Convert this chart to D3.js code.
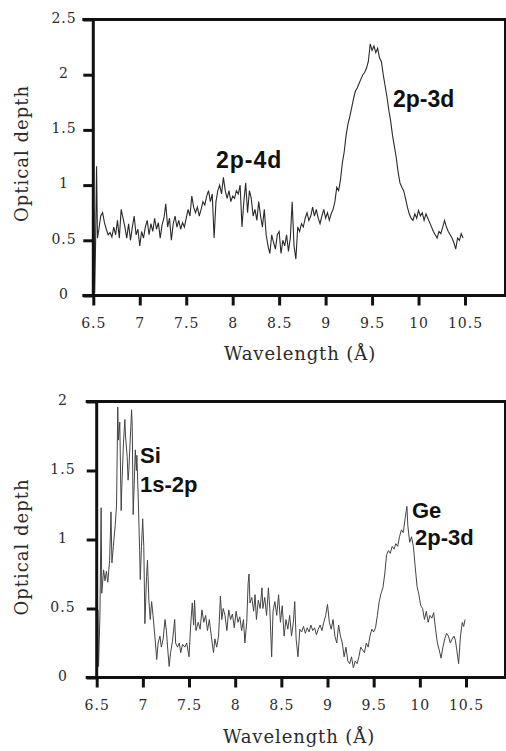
<!DOCTYPE html>
<html>
<head>
<meta charset="utf-8">
<script src="https://cdn.jsdelivr.net/npm/d3@7/dist/d3.min.js"></script>
<style>
  html, body { margin: 0; padding: 0; background: #fff; }
  svg { display: block; }
</style>
</head>
<body>
<script>
// ---------------- DATA ----------------
const xTickValues = [6.5, 7, 7.5, 8, 8.5, 9, 9.5, 10, 10.5];
const xTickLabels = ["6.5", "7", "7.5", "8", "8.5", "9", "9.5", "10", "10.5"];
const yTickValuesTop = [0, 0.5, 1, 1.5, 2, 2.5];
const yTickLabelsTop = ["0", "0.5", "1", "1.5", "2", "2.5"];
const yTickValuesBot = [0, 0.5, 1, 1.5, 2];
const yTickLabelsBot = ["0", "0.5", "1", "1.5", "2"];

const xTitle = "Wavelength (Å)";
const yTitle = "Optical depth";

const labelsTop = ["2p-4d", "2p-3d"];
const labelsBot = ["Si", "1s-2p", "Ge", "2p-3d"];

// Top panel spectrum (wavelength in Å, optical depth)
const wlTop = [6.505, 6.515, 6.525, 6.535, 6.545, 6.56, 6.58, 6.60, 6.62, 6.64, 6.66, 6.68, 6.70, 6.72, 6.74, 6.76, 6.78, 6.80, 6.82, 6.84, 6.86, 6.88, 6.90, 6.92, 6.94, 6.96, 6.98, 7.00, 7.02, 7.04, 7.06, 7.08, 7.10, 7.12, 7.14, 7.16, 7.18, 7.20, 7.22, 7.24, 7.26, 7.28, 7.30, 7.32, 7.34, 7.36, 7.38, 7.40, 7.42, 7.44, 7.46, 7.48, 7.50, 7.52, 7.54, 7.56, 7.58, 7.60, 7.62, 7.64, 7.66, 7.68, 7.70, 7.72, 7.74, 7.76, 7.78, 7.80, 7.82, 7.84, 7.86, 7.88, 7.90, 7.92, 7.94, 7.96, 7.98, 8.00, 8.02, 8.04, 8.06, 8.08, 8.10, 8.12, 8.14, 8.16, 8.18, 8.20, 8.22, 8.24, 8.26, 8.28, 8.30, 8.32, 8.34, 8.36, 8.38, 8.40, 8.42, 8.44, 8.46, 8.48, 8.50, 8.52, 8.54, 8.56, 8.58, 8.60, 8.62, 8.64, 8.66, 8.68, 8.70, 8.72, 8.74, 8.76, 8.78, 8.80, 8.82, 8.84, 8.86, 8.88, 8.90, 8.92, 8.94, 8.96, 8.98, 9.00, 9.02, 9.04, 9.06, 9.08, 9.10, 9.12, 9.14, 9.16, 9.18, 9.20, 9.22, 9.24, 9.26, 9.28, 9.30, 9.32, 9.34, 9.36, 9.38, 9.40, 9.42, 9.44, 9.46, 9.48, 9.50, 9.52, 9.54, 9.56, 9.58, 9.60, 9.62, 9.64, 9.66, 9.68, 9.70, 9.72, 9.74, 9.76, 9.78, 9.80, 9.82, 9.84, 9.86, 9.88, 9.90, 9.92, 9.94, 9.96, 9.98, 10.00, 10.02, 10.04, 10.06, 10.08, 10.10, 10.12, 10.14, 10.16, 10.18, 10.20, 10.22, 10.24, 10.26, 10.28, 10.30, 10.32, 10.34, 10.36, 10.38, 10.40, 10.42, 10.44, 10.46, 10.48];
const odTop = [0.78, 0.02, 0.50, 1.17, 0.52, 0.60, 0.72, 0.75, 0.66, 0.60, 0.55, 0.57, 0.53, 0.62, 0.55, 0.68, 0.52, 0.78, 0.70, 0.62, 0.52, 0.65, 0.50, 0.62, 0.72, 0.55, 0.60, 0.45, 0.58, 0.52, 0.62, 0.68, 0.55, 0.65, 0.58, 0.70, 0.60, 0.66, 0.52, 0.64, 0.70, 0.83, 0.62, 0.70, 0.50, 0.65, 0.72, 0.62, 0.68, 0.60, 0.66, 0.62, 0.70, 0.78, 0.72, 0.90, 0.80, 0.75, 0.80, 0.72, 0.78, 0.85, 0.82, 0.90, 0.95, 0.85, 0.92, 0.52, 0.85, 0.95, 1.00, 0.92, 1.07, 0.95, 0.88, 0.95, 0.85, 0.90, 0.88, 0.95, 0.92, 1.00, 0.62, 0.85, 1.02, 0.75, 0.95, 0.88, 0.72, 0.78, 0.68, 0.85, 0.72, 0.62, 0.78, 0.55, 0.45, 0.38, 0.55, 0.48, 0.42, 0.55, 0.58, 0.38, 0.50, 0.45, 0.55, 0.40, 0.52, 0.85, 0.45, 0.33, 0.62, 0.58, 0.65, 0.62, 0.70, 0.75, 0.68, 0.72, 0.80, 0.72, 0.78, 0.70, 0.65, 0.72, 0.78, 0.70, 0.75, 0.68, 0.74, 0.78, 0.85, 0.98, 0.95, 1.05, 1.20, 1.30, 1.45, 1.55, 1.62, 1.70, 1.78, 1.85, 1.88, 1.92, 1.96, 2.00, 2.02, 2.06, 2.12, 2.28, 2.22, 2.26, 2.20, 2.24, 2.15, 2.12, 2.00, 1.90, 1.80, 1.68, 1.58, 1.45, 1.35, 1.25, 1.12, 1.02, 0.98, 0.95, 0.88, 0.80, 0.74, 0.70, 0.68, 0.74, 0.70, 0.77, 0.72, 0.75, 0.68, 0.74, 0.70, 0.66, 0.62, 0.58, 0.55, 0.52, 0.58, 0.56, 0.62, 0.68, 0.62, 0.58, 0.55, 0.52, 0.48, 0.42, 0.52, 0.50, 0.56, 0.52];

// Bottom panel spectrum
const wlBot = [6.515, 6.520, 6.535, 6.548, 6.555, 6.575, 6.590, 6.605, 6.620, 6.640, 6.655, 6.665, 6.680, 6.700, 6.715, 6.728, 6.735, 6.750, 6.765, 6.772, 6.790, 6.805, 6.812, 6.830, 6.840, 6.848, 6.865, 6.878, 6.885, 6.895, 6.902, 6.918, 6.930, 6.935, 6.950, 6.965, 6.972, 6.985, 6.998, 7.010, 7.018, 7.022, 7.040, 7.050, 7.065, 7.080, 7.095, 7.110, 7.130, 7.150, 7.165, 7.185, 7.200, 7.220, 7.240, 7.255, 7.270, 7.285, 7.300, 7.320, 7.345, 7.355, 7.375, 7.395, 7.410, 7.430, 7.455, 7.475, 7.500, 7.520, 7.535, 7.550, 7.560, 7.575, 7.600, 7.620, 7.640, 7.660, 7.680, 7.700, 7.720, 7.745, 7.765, 7.780, 7.800, 7.820, 7.840, 7.855, 7.870, 7.890, 7.910, 7.930, 7.950, 7.970, 7.990, 8.010, 8.030, 8.050, 8.070, 8.090, 8.105, 8.125, 8.140, 8.150, 8.160, 8.180, 8.200, 8.215, 8.230, 8.250, 8.270, 8.290, 8.300, 8.320, 8.340, 8.360, 8.375, 8.395, 8.410, 8.430, 8.450, 8.470, 8.490, 8.510, 8.530, 8.550, 8.570, 8.590, 8.610, 8.630, 8.645, 8.660, 8.680, 8.700, 8.720, 8.740, 8.760, 8.780, 8.800, 8.820, 8.840, 8.860, 8.880, 8.900, 8.920, 8.940, 8.960, 8.980, 9.000, 9.020, 9.040, 9.060, 9.080, 9.100, 9.120, 9.140, 9.160, 9.180, 9.200, 9.220, 9.240, 9.260, 9.280, 9.300, 9.320, 9.340, 9.360, 9.380, 9.400, 9.420, 9.440, 9.460, 9.480, 9.500, 9.520, 9.540, 9.560, 9.580, 9.600, 9.620, 9.640, 9.660, 9.680, 9.700, 9.720, 9.740, 9.760, 9.780, 9.800, 9.820, 9.840, 9.860, 9.870, 9.890, 9.910, 9.930, 9.950, 9.970, 9.990, 10.010, 10.030, 10.050, 10.070, 10.090, 10.110, 10.130, 10.150, 10.170, 10.190, 10.210, 10.230, 10.250, 10.270, 10.290, 10.310, 10.330, 10.350, 10.370, 10.385, 10.400, 10.420, 10.440, 10.460, 10.475, 10.490];
const odBot = [0.49, 0.08, 0.45, 1.23, 0.61, 0.78, 0.70, 0.77, 0.69, 0.85, 1.20, 0.83, 0.95, 1.10, 1.25, 1.96, 1.72, 1.85, 1.21, 1.38, 1.70, 1.87, 1.75, 1.60, 1.43, 1.50, 1.75, 1.94, 1.82, 1.18, 1.32, 1.65, 1.50, 1.61, 1.30, 0.92, 0.71, 0.95, 1.15, 0.95, 0.59, 0.39, 0.73, 0.85, 0.56, 0.42, 0.55, 0.45, 0.30, 0.13, 0.25, 0.30, 0.22, 0.28, 0.42, 0.34, 0.20, 0.08, 0.18, 0.26, 0.42, 0.25, 0.22, 0.25, 0.18, 0.24, 0.22, 0.25, 0.15, 0.40, 0.54, 0.38, 0.56, 0.34, 0.40, 0.35, 0.49, 0.40, 0.45, 0.34, 0.42, 0.28, 0.18, 0.28, 0.22, 0.30, 0.59, 0.42, 0.50, 0.45, 0.34, 0.49, 0.42, 0.46, 0.36, 0.48, 0.40, 0.44, 0.34, 0.42, 0.25, 0.40, 0.68, 0.75, 0.54, 0.58, 0.48, 0.60, 0.42, 0.56, 0.50, 0.65, 0.50, 0.58, 0.45, 0.65, 0.50, 0.15, 0.48, 0.55, 0.45, 0.60, 0.40, 0.52, 0.30, 0.42, 0.35, 0.45, 0.30, 0.40, 0.55, 0.28, 0.15, 0.35, 0.33, 0.37, 0.32, 0.36, 0.33, 0.38, 0.34, 0.36, 0.31, 0.35, 0.38, 0.34, 0.40, 0.45, 0.53, 0.40, 0.35, 0.42, 0.30, 0.25, 0.38, 0.30, 0.25, 0.15, 0.22, 0.12, 0.10, 0.15, 0.07, 0.12, 0.10, 0.15, 0.22, 0.20, 0.18, 0.25, 0.22, 0.30, 0.35, 0.33, 0.36, 0.45, 0.55, 0.61, 0.65, 0.75, 0.89, 0.92, 0.90, 0.95, 0.93, 0.97, 0.95, 1.02, 1.07, 1.05, 1.15, 1.24, 1.10, 0.98, 1.02, 0.95, 0.80, 0.66, 0.60, 0.52, 0.50, 0.42, 0.48, 0.40, 0.45, 0.43, 0.47, 0.35, 0.25, 0.20, 0.14, 0.22, 0.28, 0.32, 0.30, 0.25, 0.28, 0.30, 0.27, 0.20, 0.10, 0.30, 0.40, 0.37, 0.42];

// ---------------- DRAWING ----------------
const W = 506, H = 751;
const svg = d3.select("body").append("svg").attr("width", W).attr("height", H);

const serif = "'DejaVu Serif', 'Liberation Serif', serif";
const sans = "'Liberation Sans', Arial, Helvetica, sans-serif";

function drawPanel(cfg) {
  const x = d3.scaleLinear().domain([6.5, 10.5]).range([cfg.x0, cfg.x1]);
  const y = d3.scaleLinear().domain([0, cfg.yMax]).range([cfg.yb, cfg.yt]);
  const g = svg.append("g");

  // spectrum
  const line = d3.line().x((d, i) => x(cfg.wl[i])).y(d => y(d));
  g.append("path")
    .datum(cfg.od)
    .attr("d", line)
    .attr("fill", "none")
    .attr("stroke", cfg.lineColor)
    .attr("stroke-width", cfg.lineWidth)
    .attr("stroke-linejoin", "miter");

  // frame
  const frame = g.append("g").attr("stroke", "#111").attr("stroke-linecap", "butt");
  frame.append("line").attr("x1", cfg.x0 - 11).attr("x2", W).attr("y1", cfg.yb).attr("y2", cfg.yb).attr("stroke-width", 3);
  frame.append("line").attr("x1", cfg.x0 - 11).attr("x2", W).attr("y1", cfg.yt).attr("y2", cfg.yt).attr("stroke-width", 3);
  frame.append("line").attr("x1", cfg.x0).attr("x2", cfg.x0).attr("y1", cfg.yt - 1.5).attr("y2", cfg.yb + 1.5).attr("stroke-width", 3);
  frame.append("line").attr("x1", 505).attr("x2", 505).attr("y1", cfg.yt).attr("y2", cfg.yb).attr("stroke-width", 2);

  // x axis
  const xa = g.append("g")
    .attr("transform", `translate(0,${cfg.yb})`)
    .call(d3.axisBottom(x).tickValues(xTickValues).tickSize(10)
      .tickFormat((d, i) => xTickLabels[i]));
  xa.select(".domain").remove();
  xa.selectAll(".tick line").attr("stroke", "#111").attr("stroke-width", 3);
  xa.selectAll(".tick text")
    .attr("y", 32.5).attr("dy", null)
    .attr("fill", "#2a2a2a")
    .style("font-family", serif).style("font-size", "14px").style("letter-spacing", "1px");

  // y axis
  const ya = g.append("g")
    .attr("transform", `translate(${cfg.x0},0)`)
    .call(d3.axisLeft(y).tickValues(cfg.yTicks).tickSize(10)
      .tickFormat((d, i) => cfg.yLabels[i]));
  ya.select(".domain").remove();
  ya.selectAll(".tick line").attr("stroke", "#111").attr("stroke-width", 3);
  ya.selectAll(".tick text")
    .attr("x", cfg.yLabelX - cfg.x0).attr("dy", "0.2em")
    .attr("text-anchor", "middle")
    .attr("fill", "#2a2a2a")
    .style("font-family", serif).style("font-size", "14px").style("letter-spacing", "1px");

  // axis titles
  g.append("text")
    .attr("x", cfg.xTitleX).attr("y", cfg.xTitleY)
    .attr("text-anchor", "middle")
    .attr("fill", "#2a2a2a")
    .style("font-family", serif).style("font-size", "18px").style("letter-spacing", "0.9px")
    .text(xTitle);
  g.append("text")
    .attr("transform", `translate(28,${cfg.yTitleY}) rotate(-90)`)
    .attr("text-anchor", "middle")
    .attr("fill", "#2a2a2a")
    .style("font-family", serif).style("font-size", "18px").style("letter-spacing", "1px")
    .text(yTitle);

  // annotations
  cfg.ann.forEach(a => {
    g.append("text")
      .attr("x", a.x).attr("y", a.y)
      .attr("fill", "#111")
      .style("font-family", sans).style("font-weight", "bold")
      .style("font-size", a.size + "px")
      .style("letter-spacing", (a.ls || 0) + "px")
      .text(a.t);
  });
}

drawPanel({
  x0: 93.3, x1: 465, yb: 295.5, yt: 19.5, yMax: 2.5,
  wl: wlTop, od: odTop, lineColor: "#2a2a2a", lineWidth: 1.1,
  yTicks: yTickValuesTop, yLabels: yTickLabelsTop, yLabelX: 64,
  xTitleX: 300, xTitleY: 360, yTitleY: 153.5,
  ann: [
    { t: labelsTop[0], x: 216, y: 168, size: 23, ls: 1 },
    { t: labelsTop[1], x: 393, y: 107, size: 23, ls: 0 }
  ]
});

drawPanel({
  x0: 96.7, x1: 466, yb: 677.5, yt: 401.5, yMax: 2,
  wl: wlBot, od: odBot, lineColor: "#444", lineWidth: 1,
  yTicks: yTickValuesBot, yLabels: yTickLabelsBot, yLabelX: 63,
  xTitleX: 299, xTitleY: 743, yTitleY: 547,
  ann: [
    { t: labelsBot[0], x: 140, y: 463, size: 22 },
    { t: labelsBot[1], x: 140, y: 492, size: 22 },
    { t: labelsBot[2], x: 412, y: 518, size: 22 },
    { t: labelsBot[3], x: 415, y: 545, size: 22 }
  ]
});
</script>
</body>
</html>
